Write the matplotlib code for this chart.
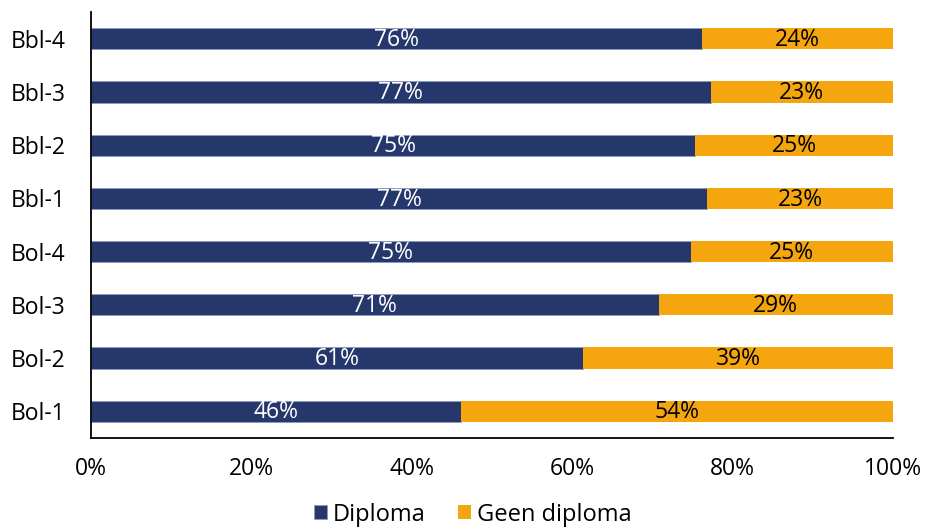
import matplotlib.pyplot as plt

plt.rcParams['font.family'] = ['Open Sans', 'DejaVu Sans']

categories = ["Bol-1", "Bol-2", "Bol-3", "Bol-4", "Bbl-1", "Bbl-2", "Bbl-3", "Bbl-4"]
diploma = [46.1, 61.4, 70.8, 74.8, 76.9, 75.4, 77.3, 76.2]
geen_diploma = [100 - d for d in diploma]

NAVY = "#26376b"
ORANGE = "#f5a60f"

fig, ax = plt.subplots(figsize=(9.27, 5.32), dpi=100)
fig.subplots_adjust(left=0.098, right=0.963, top=0.977, bottom=0.177)

y = range(len(categories))
b1 = ax.barh(y, diploma, height=0.4, color=NAVY, edgecolor="#8c9ac0", linewidth=0.6, label="Diploma")
b2 = ax.barh(y, geen_diploma, left=diploma, height=0.4, color=ORANGE, label="Geen diploma")

for rect, v in zip(b1, diploma):
    ax.text(rect.get_x() + rect.get_width() / 2, rect.get_y() + rect.get_height() / 2 - 0.02,
            f"{v:.0f}%", ha="center", va="center", color="white", fontsize=16.5)
for rect, v in zip(b2, geen_diploma):
    ax.text(rect.get_x() + rect.get_width() / 2, rect.get_y() + rect.get_height() / 2 - 0.02,
            f"{v:.0f}%", ha="center", va="center", color="black", fontsize=16.5)

ax.set_xlim(0, 100)
ax.set_ylim(-0.5, len(categories) - 0.5)
ax.set_yticks(list(y))
ax.set_yticklabels(categories, fontsize=16.5)
ax.set_xticks(range(0, 101, 20))
ax.set_xticklabels([f"{t}%" for t in range(0, 101, 20)], fontsize=16.5)
ax.tick_params(length=0)
ax.tick_params(axis="x", pad=14)
ax.tick_params(axis="y", pad=18)
for s in ["top", "right"]:
    ax.spines[s].set_visible(False)
ax.spines["left"].set_linewidth(1.3)
ax.spines["bottom"].set_linewidth(1.3)

fig.legend(handles=[b1, b2], loc="lower center", ncol=2, frameon=False, fontsize=17,
           handlelength=0.55, handleheight=0.55, handletextpad=0.25, columnspacing=1.4,
           bbox_to_anchor=(0.51, -0.03))

fig.savefig("out.png", dpi=100)
